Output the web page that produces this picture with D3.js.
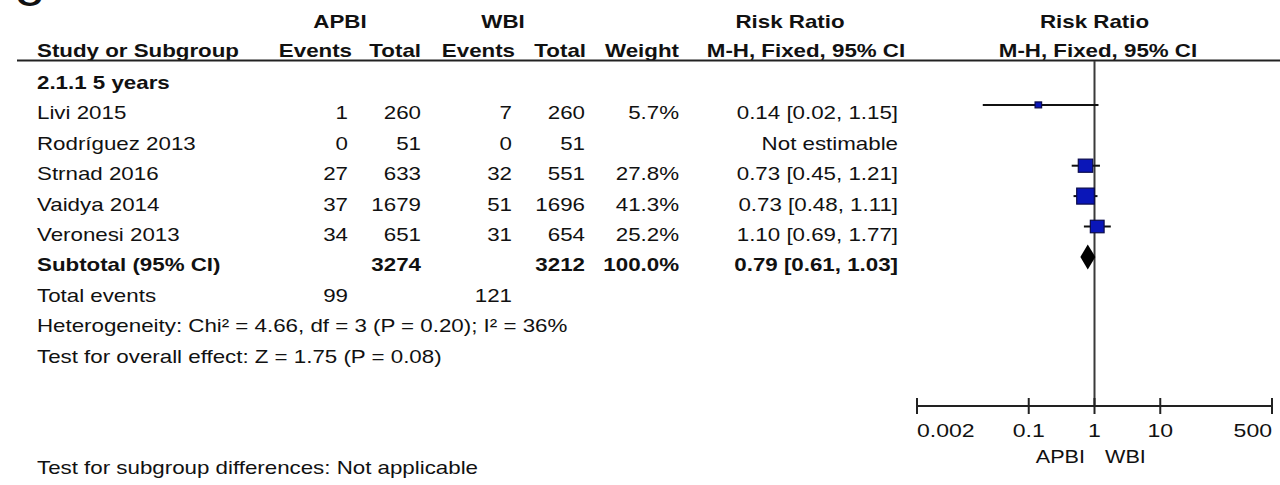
<!DOCTYPE html>
<html>
<head>
<meta charset="utf-8">
<script src="https://cdn.jsdelivr.net/npm/d3@7"></script>
<style>
  html, body { margin: 0; padding: 0; background: #fff; }
  svg { display: block; }
  text { font-family: "Liberation Sans", Arial, sans-serif; fill: #111; }
</style>
</head>
<body>
<script>
// ---- data ----
const studies     = ["Livi 2015", "Rodríguez 2013", "Strnad 2016", "Vaidya 2014", "Veronesi 2013"];
const apbiEvents  = [1, 0, 27, 37, 34];
const apbiTotal   = [260, 51, 633, 1679, 651];
const wbiEvents   = [7, 0, 32, 51, 31];
const wbiTotal    = [260, 51, 551, 1696, 654];
const weights     = [5.7, null, 27.8, 41.3, 25.2];
const riskRatio   = [0.14, null, 0.73, 0.73, 1.10];
const ciLow       = [0.02, null, 0.45, 0.48, 0.69];
const ciHigh      = [1.15, null, 1.21, 1.11, 1.77];

const subtotalLabel = "Subtotal (95% CI)";
const subtotalApbiTotal = 3274;
const subtotalWbiTotal = 3212;
const subtotalWeight = 100.0;
const subtotalRR = 0.79, subtotalLow = 0.61, subtotalHigh = 1.03;
const totalEventsApbi = 99, totalEventsWbi = 121;

const subgroupLabel = "2.1.1 5 years";
const heterogeneityText = "Heterogeneity: Chi² = 4.66, df = 3 (P = 0.20); I² = 36%";
const overallEffectText = "Test for overall effect: Z = 1.75 (P = 0.08)";
const subgroupDiffText = "Test for subgroup differences: Not applicable";

const axisTicks = [0.002, 0.1, 1, 10, 500];
const axisSideLabels = ["APBI", "WBI"];

// ---- layout ----
const W = 1280, H = 485;
const FS = 18.6;   // font size
const SX = 1.2;    // horizontal text stretch

const svg = d3.select("body").append("svg").attr("width", W).attr("height", H);

function txt(x, y, s, opt = {}) {
  return svg.append("text")
    .attr("transform", `translate(${x},${y}) scale(${opt.sx || SX},1)`)
    .attr("text-anchor", opt.anchor || "start")
    .attr("font-size", opt.size || FS)
    .attr("font-weight", opt.bold ? "bold" : "normal")
    .text(s);
}

const f2 = d3.format(".2f");
const f1 = d3.format(".1f");
const ciText = (r, l, h) => `${f2(r)} [${f2(l)}, ${f2(h)}]`;

// text row baselines: 0 = subgroup heading, 1..5 studies, 6 subtotal, 7 total events, 8 heterogeneity, 9 overall
const rowY = d3.scaleLinear().domain([0, 9]).range([89, 362.6]);
const markY = i => rowY(i) - 14.5;

// column right edges
const col = { ev: 348, tot: 421, wev: 512, wtot: 585, wt: 679, rr: 898 };

// forest scale
const x = d3.scaleLog().domain([0.002, 500]).range([917, 1272]);
const axisY = 406;

// panel letter, mostly outside the frame
txt(16, 6, "C", { bold: true, size: 30 });

// headers
txt(340, 28, "APBI", { bold: true, anchor: "middle" });
txt(503, 28, "WBI", { bold: true, anchor: "middle" });
txt(790, 28, "Risk Ratio", { bold: true, anchor: "middle" });
txt(x(1), 28, "Risk Ratio", { bold: true, anchor: "middle" });

txt(37, 57, "Study or Subgroup", { bold: true });
txt(352, 57, "Events", { bold: true, anchor: "end" });
txt(421, 57, "Total", { bold: true, anchor: "end" });
txt(515, 57, "Events", { bold: true, anchor: "end" });
txt(586, 57, "Total", { bold: true, anchor: "end" });
txt(679, 57, "Weight", { bold: true, anchor: "end" });
txt(806, 57, "M-H, Fixed, 95% CI", { bold: true, anchor: "middle" });
txt(1098, 57, "M-H, Fixed, 95% CI", { bold: true, anchor: "middle" });

svg.append("line")
  .attr("x1", 17).attr("x2", W).attr("y1", 60.5).attr("y2", 60.5)
  .attr("stroke", "#222").attr("stroke-width", 2);

// subgroup heading
txt(37, rowY(0), subgroupLabel, { bold: true });

// study rows
studies.forEach((s, i) => {
  const y = rowY(i + 1);
  txt(37, y, s);
  txt(col.ev, y, apbiEvents[i], { anchor: "end" });
  txt(col.tot, y, apbiTotal[i], { anchor: "end" });
  txt(col.wev, y, wbiEvents[i], { anchor: "end" });
  txt(col.wtot, y, wbiTotal[i], { anchor: "end" });
  if (weights[i] != null) txt(col.wt, y, f1(weights[i]) + "%", { anchor: "end" });
  txt(col.rr, y, riskRatio[i] != null ? ciText(riskRatio[i], ciLow[i], ciHigh[i]) : "Not estimable", { anchor: "end" });
});

// subtotal
txt(37, rowY(6), subtotalLabel, { bold: true });
txt(col.tot, rowY(6), subtotalApbiTotal, { bold: true, anchor: "end" });
txt(col.wtot, rowY(6), subtotalWbiTotal, { bold: true, anchor: "end" });
txt(col.wt, rowY(6), f1(subtotalWeight) + "%", { bold: true, anchor: "end" });
txt(col.rr, rowY(6), ciText(subtotalRR, subtotalLow, subtotalHigh), { bold: true, anchor: "end" });

txt(37, rowY(7), "Total events");
txt(col.ev, rowY(7), totalEventsApbi, { anchor: "end" });
txt(col.wev, rowY(7), totalEventsWbi, { anchor: "end" });
txt(37, rowY(8), heterogeneityText);
txt(37, rowY(9), overallEffectText);
txt(37, 474, subgroupDiffText);

// line of no effect
svg.append("line")
  .attr("x1", x(1)).attr("x2", x(1)).attr("y1", 61).attr("y2", axisY)
  .attr("stroke", "#3a3a3a").attr("stroke-width", 2);

// study CIs and weight squares
const side = d3.scaleSqrt().domain([0, 41.3]).range([0, 16]);
const forest = svg.append("g");
studies.forEach((s, i) => {
  if (riskRatio[i] == null) return;
  const y = markY(i + 1);
  forest.append("line")
    .attr("x1", x(ciLow[i])).attr("x2", x(ciHigh[i]))
    .attr("y1", y).attr("y2", y)
    .attr("stroke", "#111").attr("stroke-width", 2);
  const s2 = side(weights[i]);
  const w = s2 * 1.1;
  forest.append("rect")
    .attr("x", x(riskRatio[i]) - w / 2).attr("y", y - s2 / 2)
    .attr("width", w).attr("height", s2)
    .attr("fill", "#0a16b8").attr("stroke", "#0b0b4a").attr("stroke-width", 1.2);
});

// pooled diamond
const dy = markY(6), dh = 12.5;
forest.append("path")
  .attr("d", `M${x(subtotalLow)},${dy} L${x(subtotalRR)},${dy - dh} L${x(subtotalHigh)},${dy} L${x(subtotalRR)},${dy + dh} Z`)
  .attr("fill", "#000");

// axis
const axisG = svg.append("g").attr("transform", `translate(0,${axisY})`);
axisG.append("line")
  .attr("x1", x(axisTicks[0])).attr("x2", x(axisTicks[axisTicks.length - 1]))
  .attr("stroke", "#222").attr("stroke-width", 2);
axisTicks.forEach((t, i) => {
  axisG.append("line")
    .attr("x1", x(t)).attr("x2", x(t)).attr("y1", -8).attr("y2", 8)
    .attr("stroke", "#222").attr("stroke-width", 2);
  const anchor = i === 0 ? "start" : (i === axisTicks.length - 1 ? "end" : "middle");
  txt(x(t), axisY + 31, String(t), { anchor, size: 19.2 });
});
txt(1085, 463, axisSideLabels[0], { anchor: "end", size: 18 });
txt(1105, 463, axisSideLabels[1], { anchor: "start", size: 18 });
</script>
</body>
</html>
